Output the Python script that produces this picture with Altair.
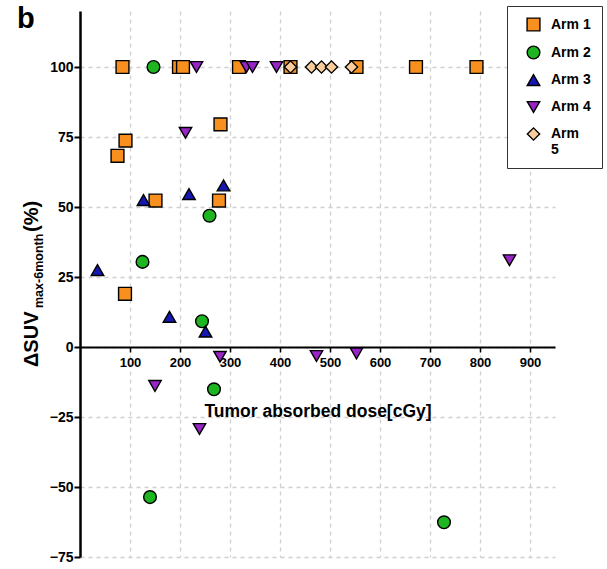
import altair as alt
import pandas as pd

# Tumour absorbed dose (cGy) and change in SUVmax at 6 months (%) per treatment arm
arm_names = ["Arm 1", "Arm 2", "Arm 3", "Arm 4", "Arm 5"]

arm1_dose = [85, 198, 206, 318, 421, 553, 672, 793, 91, 75, 281, 151, 278, 90]
arm1_change = [100, 100, 100, 100, 100, 100, 100, 100, 73.7, 68.3, 79.5, 52.3, 52.3, 19.0]

arm2_dose = [147, 259, 125, 244, 268, 140, 728]
arm2_change = [100, 46.9, 30.4, 9.2, -15.1, -53.6, -62.6]

arm3_dose = [127, 218, 287, 35, 179, 251]
arm3_change = [52.5, 54.6, 57.7, 27.5, 10.8, 5.5]

arm4_dose = [233, 333, 345, 393, 211, 280, 473, 553, 150, 239, 859]
arm4_change = [100, 100, 100, 100, 76.5, -3.5, -3.2, -2.3, -13.9, -29.3, 31.0]

arm5_dose = [421, 463, 483, 503, 543]
arm5_change = [100, 100, 100, 100, 100]

x_ticks = [100, 200, 300, 400, 500, 600, 700, 800, 900]
y_ticks = [-75, -50, -25, 0, 25, 50, 75, 100]

arm_colors = ["#F7901E", "#1DB520", "#1616B0", "#9A24C8", "#F9CC9B"]
arm_shapes = ["square", "circle", "triangle-up", "triangle-down", "diamond"]
arm_sizes = [165, 150, 190, 190, 140]

rows = []
for name, doses, changes in zip(
    arm_names,
    [arm1_dose, arm2_dose, arm3_dose, arm4_dose, arm5_dose],
    [arm1_change, arm2_change, arm3_change, arm4_change, arm5_change],
):
    for d, c in zip(doses, changes):
        rows.append({"arm": name, "dose": d, "change": c})
df = pd.DataFrame(rows)

FONT = "Liberation Sans"
GRID = "#cfcfcf"

legend = alt.Legend(
    title=None,
    orient="none",
    legendX=427,
    legendY=-5,
    fillColor="white",
    strokeColor="#333333",
    padding=11,
    rowPadding=9,
    symbolSize=170,
    symbolStrokeColor="black",
    symbolStrokeWidth=1.4,
    symbolOffset=8,
    labelOffset=10,
    labelFont=FONT,
    labelFontSize=14,
    labelFontWeight="bold",
    labelColor="black",
    labelExpr="datum.label == 'Arm 5' ? ['Arm', '5'] : datum.label",
)

points = (
    alt.Chart(df)
    .mark_point(filled=True, stroke="black", strokeWidth=1.4, opacity=1)
    .encode(
        x=alt.X(
            "dose:Q",
            scale=alt.Scale(domain=[0, 950], nice=False, zero=False),
            axis=alt.Axis(
                values=x_ticks,
                offset=-210,
                title="Tumor absorbed dose[cGy]",
                titleFont=FONT,
                titleFontSize=17.5,
                titleFontWeight="bold",
                titleColor="black",
                titlePadding=33,
                labelFont=FONT,
                labelFontSize=13,
                labelFontWeight="bold",
                labelColor="black",
                labelPadding=4,
                tickSize=5,
                tickWidth=1.5,
                tickColor="black",
                domainColor="black",
                domainWidth=2,
                grid=True,
                gridColor=GRID,
                gridDash=[4, 4],
                gridWidth=1.3,
            ),
        ),
        y=alt.Y(
            "change:Q",
            scale=alt.Scale(domain=[-75, 120], nice=False, zero=False),
            axis=alt.Axis(
                values=y_ticks,
                title=None,
                labelFont=FONT,
                labelFontSize=14,
                labelFontWeight="bold",
                labelColor="black",
                labelPadding=1,
                tickSize=6,
                tickWidth=2,
                tickColor="black",
                domainColor="black",
                domainWidth=2.5,
                grid=True,
                gridColor=GRID,
                gridDash=[4, 4],
                gridWidth=1.3,
            ),
        ),
        color=alt.Color("arm:N", scale=alt.Scale(domain=arm_names, range=arm_colors), legend=legend),
        shape=alt.Shape("arm:N", scale=alt.Scale(domain=arm_names, range=arm_shapes), legend=legend),
        size=alt.Size("arm:O", scale=alt.Scale(domain=arm_names, range=arm_sizes), legend=None),
    )
)


def label(text, x, y, size, angle=0):
    return (
        alt.Chart(pd.DataFrame({"t": [text]}))
        .mark_text(
            font=FONT,
            fontSize=size,
            fontWeight="bold",
            color="black",
            align="left",
            baseline="alphabetic",
            angle=angle,
        )
        .encode(text="t:N", x=alt.value(x), y=alt.value(y))
    )


panel = label("b", -63, 17, 29)
ytitle_main = label("ΔSUV", -42, 356, 20, angle=270)
ytitle_sub = label("max-6month", -37, 297, 12.5, angle=270)
ytitle_end = label("(%)", -42, 221, 20, angle=270)

chart = (
    alt.layer(points, panel, ytitle_main, ytitle_sub, ytitle_end)
    .properties(
        width=475,
        height=546,
        autosize=alt.AutoSizeParams(type="none"),
        padding={"left": 80, "top": 11, "right": 52, "bottom": 12},
    )
    .configure_view(stroke=None)
)

chart.save("out.html", embed_options={"renderer": "svg", "actions": False})
